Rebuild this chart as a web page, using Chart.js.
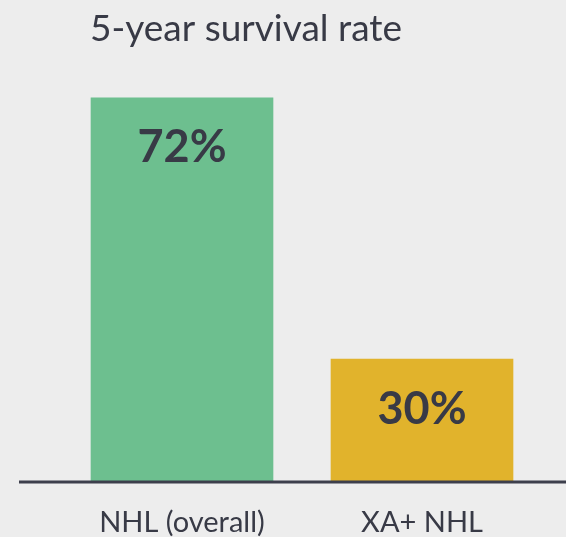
<!DOCTYPE html>
<html>
<head>
<meta charset="utf-8">
<script src="https://cdn.jsdelivr.net/npm/chart.js@4.4.1/dist/chart.umd.min.js"></script>
<style>
  html, body { margin: 0; padding: 0; background: #ededed; }
  #wrap { width: 566px; height: 537px; }
</style>
</head>
<body>
<div id="wrap"><canvas id="survivalChart" width="566" height="537"></canvas></div>
<script>
const chartTitle = '5-year survival rate';
const categories = ['NHL (overall)', 'XA+ NHL'];
const survival = [72, 30];
const barColors = ['#6dbf8f', '#e1b32c'];

const textColor = '#383a46';

// title drawn by hand so it can sit left of the plot area
const titlePlugin = {
  id: 'titleText',
  afterDraw(chart) {
    const ctx = chart.ctx;
    ctx.save();
    ctx.font = '37px Lato';
    ctx.fillStyle = textColor;
    ctx.textBaseline = 'alphabetic';
    ctx.textAlign = 'left';
    ctx.fillText(chartTitle, 90, 41);
    ctx.restore();
  }
};

// baseline runs wider than the bars
const baselinePlugin = {
  id: 'baseline',
  afterDatasetsDraw(chart) {
    const ctx = chart.ctx;
    const y = chart.chartArea.bottom + 1;
    ctx.save();
    ctx.strokeStyle = '#3d3f4c';
    ctx.lineWidth = 3;
    ctx.beginPath();
    ctx.moveTo(19, y);
    ctx.lineTo(chart.width, y);
    ctx.stroke();
    ctx.restore();
  }
};

// percentage labels inside the bars
const valueLabels = {
  id: 'valueLabels',
  afterDatasetsDraw(chart) {
    const ctx = chart.ctx;
    const meta = chart.getDatasetMeta(0);
    ctx.save();
    ctx.font = 'bold 45px Lato';
    ctx.fillStyle = textColor;
    ctx.textAlign = 'center';
    ctx.textBaseline = 'middle';
    meta.data.forEach((bar, i) => {
      ctx.fillText(survival[i] + '%', bar.x, bar.y + 50);
    });
    ctx.restore();
  }
};

new Chart(document.getElementById('survivalChart'), {
  type: 'bar',
  data: {
    labels: categories,
    datasets: [{
      data: survival,
      backgroundColor: barColors,
      borderWidth: 0,
      barThickness: 182
    }]
  },
  options: {
    responsive: false,
    animation: false,
    layout: { padding: { top: 60, left: 62, right: 24, bottom: 0 } },
    plugins: {
      legend: { display: false },
      title: { display: false },
      tooltip: { enabled: false }
    },
    scales: {
      x: {
        grid: { display: false, drawTicks: false },
        border: { display: false },
        ticks: {
          color: textColor,
          font: { family: 'Lato', size: 29 },
          padding: 24
        },
        afterFit(axis) { axis.height = 56; }
      },
      y: {
        display: false,
        min: 10.4,
        max: 78.1
      }
    }
  },
  plugins: [titlePlugin, baselinePlugin, valueLabels]
});
</script>
</body>
</html>
